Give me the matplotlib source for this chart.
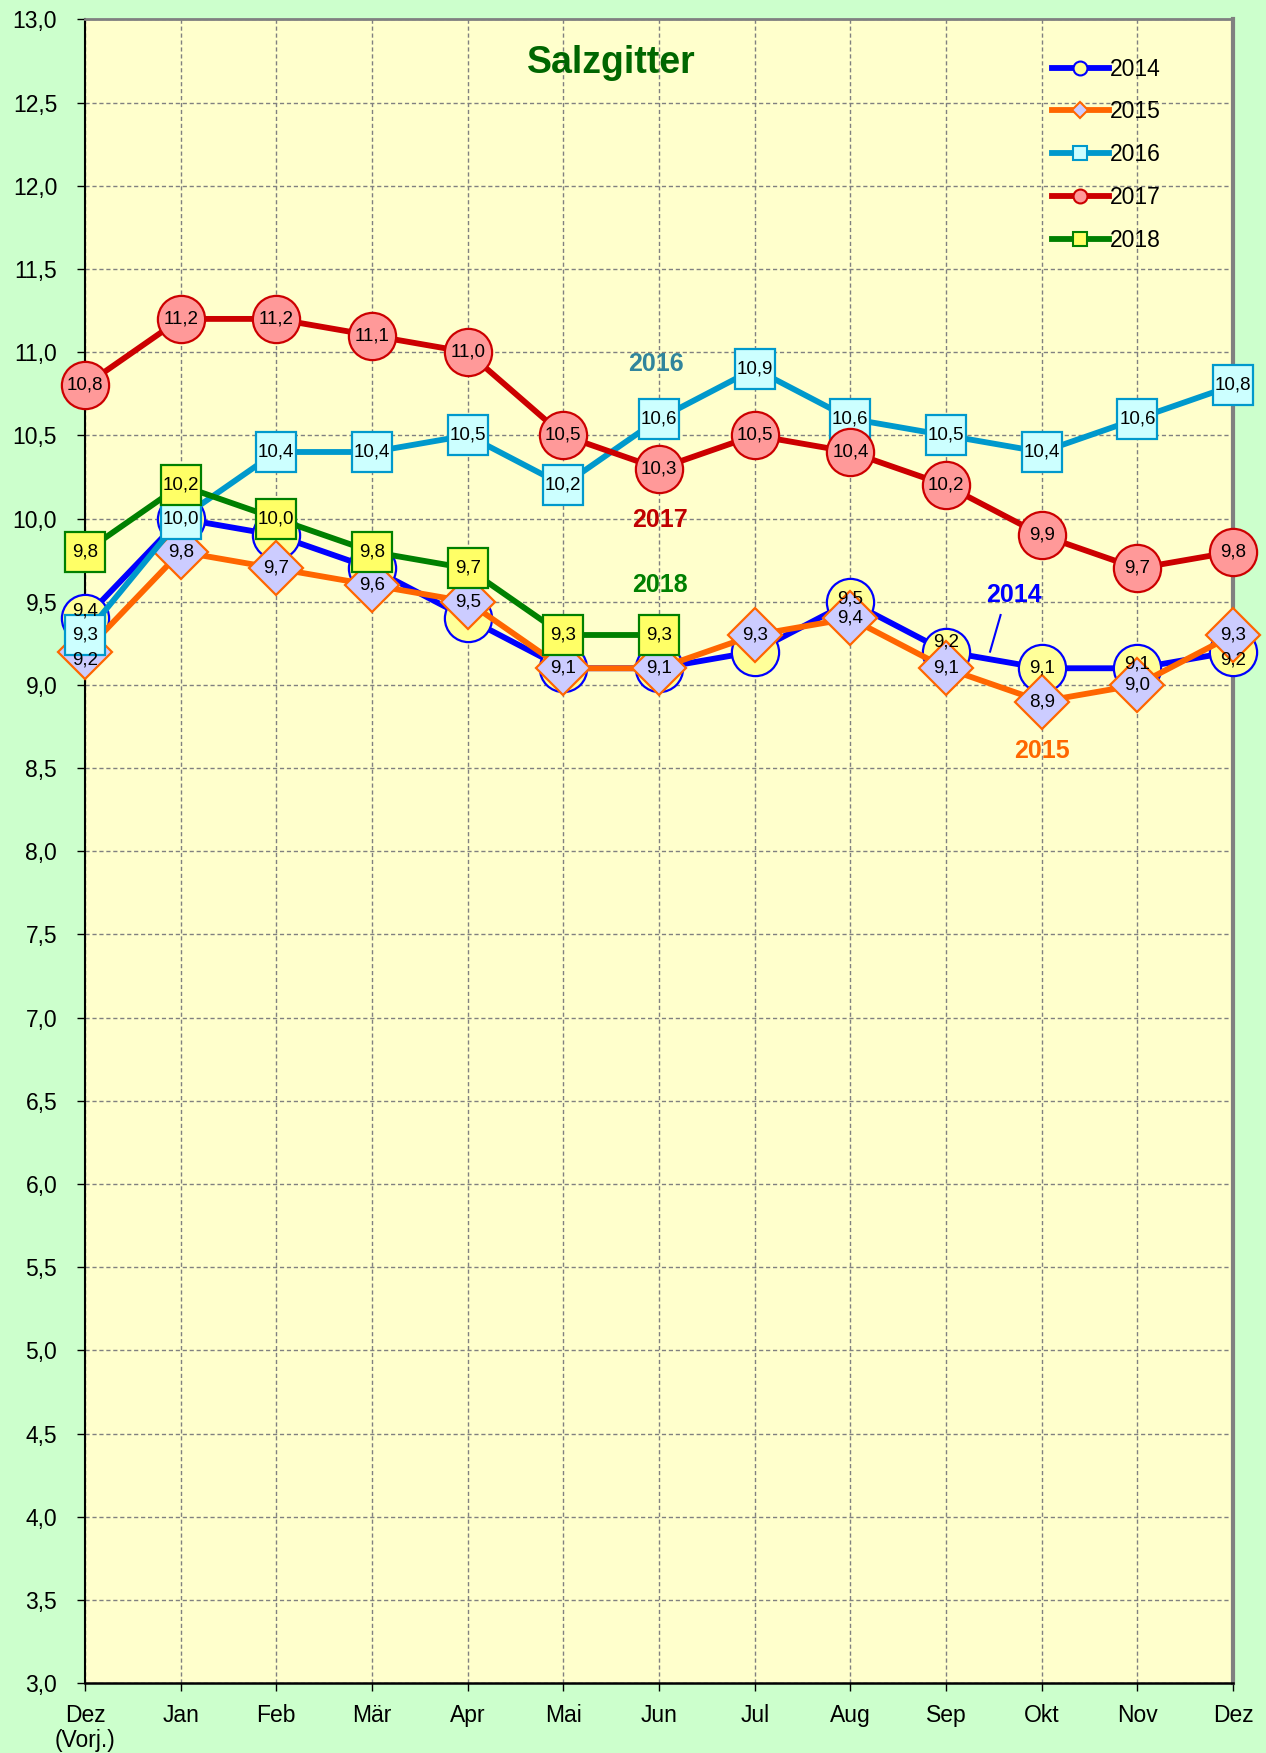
import matplotlib.pyplot as plt
from matplotlib.lines import Line2D
import matplotlib.ticker as mticker

plt.rcParams['font.family'] = ['Liberation Sans', 'DejaVu Sans']

# data (Salzgitter, Monatswerte)
months = ['Dez\n(Vorj.)', 'Jan', 'Feb', 'Mär', 'Apr', 'Mai', 'Jun',
          'Jul', 'Aug', 'Sep', 'Okt', 'Nov', 'Dez']
y2014 = [9.4, 10.0, 9.9, 9.7, 9.4, 9.1, 9.1, 9.2, 9.5, 9.2, 9.1, 9.1, 9.2]
y2015 = [9.2, 9.8, 9.7, 9.6, 9.5, 9.1, 9.1, 9.3, 9.4, 9.1, 8.9, 9.0, 9.3]
y2016 = [9.3, 10.0, 10.4, 10.4, 10.5, 10.2, 10.6, 10.9, 10.6, 10.5, 10.4, 10.6, 10.8]
y2017 = [10.8, 11.2, 11.2, 11.1, 11.0, 10.5, 10.3, 10.5, 10.4, 10.2, 9.9, 9.7, 9.8]
y2018 = [9.8, 10.2, 10.0, 9.8, 9.7, 9.3, 9.3]
years = ['2014', '2015', '2016', '2017', '2018']

# which labels excel left out for 2014 (covered by other series)
hide_2014 = [1, 2, 3, 4, 5, 6, 7]

series = [
    (years[0], y2014, '#0000FF', '#FFFF99', 'o', 34),
    (years[1], y2015, '#FF6600', '#CCCCFF', 'D', 28),
    (years[2], y2016, '#0099CC', '#CCFFFF', 's', 29),
    (years[3], y2017, '#CC0000', '#FF9999', 'o', 34),
    (years[4], y2018, '#008000', '#FFFF66', 's', 29),
]

# small label nudges in points (year, index) -> dy
nudge = {('2014', 0): 5, ('2015', 0): -6, ('2014', 9): 7, ('2014', 12): -6,
         ('2014', 11): 3, ('2014', 8): 2}

fig = plt.figure(figsize=(12.66, 17.53), dpi=100, facecolor='#CCFFCC')
ax = fig.add_axes([0.0671, 0.0399, 0.9069, 0.949])
ax.set_facecolor('#FFFFCC')

handles = []
for i, (name, vals, col, face, mk, ms) in enumerate(series):
    xs = list(range(len(vals)))
    ax.plot(xs, vals, color=col, lw=4.2, marker=mk, ms=ms, mfc=face,
            mec=col, mew=1.6, zorder=3 + i, clip_on=False)
    for j, v in enumerate(vals):
        if name == '2014' and j in hide_2014:
            continue
        ax.annotate(f'{v:.1f}'.replace('.', ','), (j, v),
                    xytext=(0, nudge.get((name, j), 0)), textcoords='offset points',
                    ha='center', va='center', fontsize=13.5, zorder=20,
                    annotation_clip=False)
    handles.append(Line2D([], [], color=col, lw=4.2, marker=mk, ms=10 if mk != 'D' else 8,
                          mfc=face, mec=col, mew=1.5))

ax.set_xlim(0, 12)
ax.set_ylim(3, 13)
ax.set_xticks(range(13))
ax.set_xticklabels(months, fontsize=16.5, linespacing=1.1)
ax.yaxis.set_major_locator(mticker.MultipleLocator(0.5))
ax.yaxis.set_major_formatter(mticker.FuncFormatter(lambda v, p: f'{v:.1f}'.replace('.', ',')))
ax.tick_params(axis='y', labelsize=16.5, length=6, width=1, pad=14)
ax.tick_params(axis='x', length=6, width=1, pad=9)

ax.grid(True, color='#808080', lw=1, linestyle=(0, (3, 2)))
ax.set_axisbelow(True)

ax.spines['left'].set_color('black')
ax.spines['left'].set_linewidth(1.5)
ax.spines['bottom'].set_color('black')
ax.spines['bottom'].set_linewidth(1.8)
ax.spines['top'].set_color('#808080')
ax.spines['top'].set_linewidth(2)
ax.spines['right'].set_color('#808080')
ax.spines['right'].set_linewidth(3)

ax.text(5.5, 12.74, 'Salzgitter', ha='center', va='center', fontsize=27,
        fontweight='bold', color='#006600')

# series name labels inside the plot
ax.text(5.97, 10.93, '2016', ha='center', va='center', fontsize=18, fontweight='bold', color='#31859C')
ax.text(6.01, 9.99, '2017', ha='center', va='center', fontsize=18, fontweight='bold', color='#C00000')
ax.text(6.01, 9.60, '2018', ha='center', va='center', fontsize=18, fontweight='bold', color='#008000')
ax.text(9.71, 9.54, '2014', ha='center', va='center', fontsize=18, fontweight='bold', color='#0000FF')
ax.text(10.0, 8.60, '2015', ha='center', va='center', fontsize=18, fontweight='bold', color='#FF6600')
ax.plot([9.57, 9.46], [9.42, 9.20], color='#0000FF', lw=1.5, zorder=15)

ax.legend(handles, years, loc='upper left', bbox_to_anchor=(0.842, 0.977),
          frameon=False, fontsize=16.5, handlelength=2.5, handletextpad=0.05,
          labelspacing=0.86, borderpad=0, borderaxespad=0)

fig.savefig('out.png', dpi=100, facecolor=fig.get_facecolor())
